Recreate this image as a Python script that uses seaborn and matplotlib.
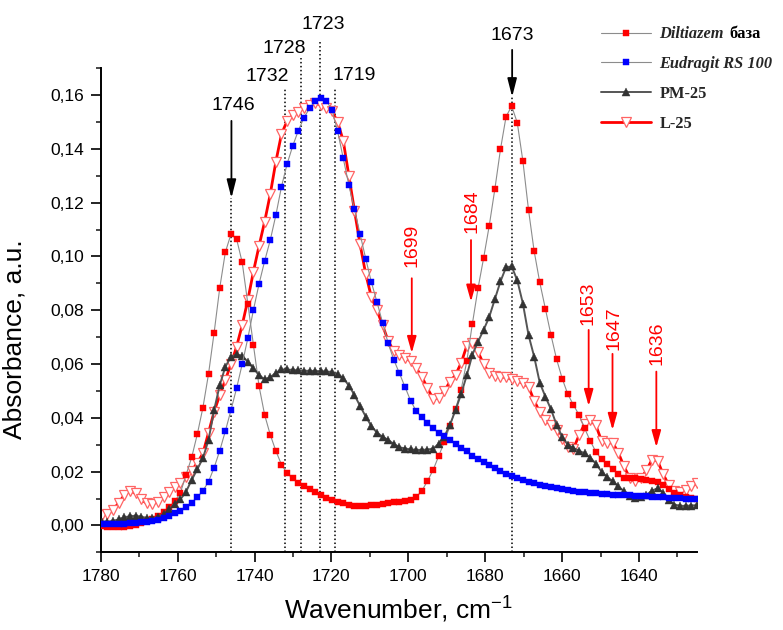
import numpy as np
import pandas as pd
import matplotlib
matplotlib.use("Agg")
import matplotlib.pyplot as plt
import seaborn as sns
from matplotlib.ticker import MultipleLocator, FuncFormatter
from matplotlib.transforms import IdentityTransform

# ---------------- data ----------------
wavenumber = 1779.7 - 1.46 * np.arange(107)   # instrument sampling grid, cm-1

diltiazem = [
    -0.0003, -0.0005, -0.0006, -0.0006, -0.0005, -0.0002, 0.0002, 0.0008, 0.0015, 0.0025,
    0.0035, 0.0050, 0.0068, 0.0090, 0.0122, 0.0188, 0.0253, 0.0339, 0.0438, 0.0563,
    0.0717, 0.0883, 0.1016, 0.1083, 0.1065, 0.0978, 0.0825, 0.0671, 0.0518, 0.0411,
    0.0337, 0.0277, 0.0226, 0.0194, 0.0175, 0.0159, 0.0147, 0.0134, 0.0126, 0.0113,
    0.0103, 0.0095, 0.0088, 0.0082, 0.0076, 0.0072, 0.0072, 0.0073, 0.0076, 0.0078,
    0.0081, 0.0083, 0.0086, 0.0087, 0.0090, 0.0093, 0.0105, 0.0129, 0.0165, 0.0206,
    0.0258, 0.0311, 0.0370, 0.0433, 0.0505, 0.0610, 0.0750, 0.0881, 0.0994, 0.1114,
    0.1250, 0.1398, 0.1520, 0.1559, 0.1497, 0.1354, 0.1173, 0.1020, 0.0904, 0.0806,
    0.0708, 0.0618, 0.0546, 0.0488, 0.0448, 0.0411, 0.0361, 0.0314, 0.0274, 0.0246,
    0.0227, 0.0209, 0.0191, 0.0178, 0.0175, 0.0175, 0.0172, 0.0169, 0.0167, 0.0163,
    0.0151, 0.0135, 0.0122, 0.0113, 0.0105, 0.0101, 0.0099,
]

eudragit = [
    0.0004, 0.0004, 0.0005, 0.0005, 0.0007, 0.0008, 0.0009, 0.0012, 0.0014, 0.0017,
    0.0020, 0.0026, 0.0035, 0.0045, 0.0055, 0.0067, 0.0085, 0.0105, 0.0129, 0.0163,
    0.0215, 0.0278, 0.0351, 0.0429, 0.0510, 0.0600, 0.0696, 0.0801, 0.0898, 0.0983,
    0.1061, 0.1154, 0.1260, 0.1344, 0.1411, 0.1468, 0.1516, 0.1551, 0.1579, 0.1590,
    0.1578, 0.1545, 0.1465, 0.1365, 0.1265, 0.1175, 0.1083, 0.0992, 0.0905, 0.0831,
    0.0754, 0.0677, 0.0616, 0.0566, 0.0515, 0.0464, 0.0425, 0.0402, 0.0381, 0.0361,
    0.0344, 0.0333, 0.0318, 0.0303, 0.0289, 0.0277, 0.0260, 0.0247, 0.0236, 0.0226,
    0.0214, 0.0204, 0.0193, 0.0185, 0.0176, 0.0169, 0.0163, 0.0157, 0.0151, 0.0147,
    0.0142, 0.0138, 0.0134, 0.0132, 0.0129, 0.0126, 0.0123, 0.0121, 0.0119, 0.0118,
    0.0117, 0.0115, 0.0114, 0.0113, 0.0112, 0.0110, 0.0109, 0.0108, 0.0107, 0.0106,
    0.0105, 0.0104, 0.0103, 0.0101, 0.0100, 0.0099, 0.0098,
]

pm25 = [
    0.0014, 0.0014, 0.0017, 0.0023, 0.0030, 0.0035, 0.0036, 0.0033, 0.0028, 0.0026,
    0.0033, 0.0041, 0.0060, 0.0080, 0.0097, 0.0126, 0.0169, 0.0209, 0.0250, 0.0318,
    0.0429, 0.0522, 0.0590, 0.0627, 0.0636, 0.0630, 0.0609, 0.0584, 0.0559, 0.0543,
    0.0551, 0.0568, 0.0580, 0.0580, 0.0578, 0.0577, 0.0575, 0.0575, 0.0574, 0.0574,
    0.0573, 0.0570, 0.0563, 0.0548, 0.0520, 0.0485, 0.0444, 0.0405, 0.0370, 0.0345,
    0.0330, 0.0318, 0.0303, 0.0291, 0.0286, 0.0283, 0.0281, 0.0281, 0.0282, 0.0286,
    0.0303, 0.0330, 0.0374, 0.0429, 0.0489, 0.0558, 0.0635, 0.0683, 0.0727, 0.0775,
    0.0841, 0.0907, 0.0960, 0.0963, 0.0911, 0.0825, 0.0708, 0.0628, 0.0531, 0.0479,
    0.0432, 0.0374, 0.0330, 0.0300, 0.0288, 0.0278, 0.0268, 0.0252, 0.0230, 0.0200,
    0.0180, 0.0165, 0.0145, 0.0128, 0.0110, 0.0102, 0.0105, 0.0113, 0.0130, 0.0138,
    0.0122, 0.0095, 0.0078, 0.0073, 0.0073, 0.0074, 0.0076,
]

l25 = [
    0.0039, 0.0041, 0.0057, 0.0085, 0.0113, 0.0129, 0.0119, 0.0097, 0.0082, 0.0080,
    0.0088, 0.0105, 0.0126, 0.0144, 0.0159, 0.0179, 0.0204, 0.0233, 0.0268, 0.0345,
    0.0423, 0.0485, 0.0541, 0.0600, 0.0665, 0.0745, 0.0838, 0.0944, 0.1039, 0.1130,
    0.1232, 0.1353, 0.1455, 0.1504, 0.1526, 0.1538, 0.1553, 0.1563, 0.1569, 0.1563,
    0.1553, 0.1540, 0.1500, 0.1430, 0.1300, 0.1170, 0.1045, 0.0935, 0.0850, 0.0800,
    0.0745, 0.0686, 0.0648, 0.0634, 0.0623, 0.0611, 0.0585, 0.0553, 0.0510, 0.0471,
    0.0474, 0.0500, 0.0534, 0.0560, 0.0604, 0.0668, 0.0680, 0.0645, 0.0600, 0.0567,
    0.0557, 0.0552, 0.0551, 0.0543, 0.0538, 0.0528, 0.0516, 0.0464, 0.0422, 0.0393,
    0.0372, 0.0354, 0.0322, 0.0292, 0.0286, 0.0335, 0.0378, 0.0392, 0.0372, 0.0315,
    0.0306, 0.0308, 0.0270, 0.0220, 0.0178, 0.0165, 0.0175, 0.0205, 0.0245, 0.0240,
    0.0190, 0.0150, 0.0127, 0.0124, 0.0132, 0.0145, 0.0157,
]

series_labels = ["Diltiazem", "Eudragit RS 100", "PM-25", "L-25"]

# band annotations
black_peaks = [1746, 1732, 1728, 1723, 1719, 1673]
red_peaks = [1699, 1684, 1653, 1647, 1636]

# ---------------- style ----------------
sns.set_theme(style="white")
plt.rcParams["font.family"] = ["Liberation Sans", "DejaVu Sans"]
plt.rcParams["mathtext.fontset"] = "custom"
plt.rcParams["mathtext.rm"] = "Liberation Sans"
plt.rcParams["mathtext.it"] = "Liberation Sans:italic"
plt.rcParams["mathtext.bf"] = "Liberation Sans:bold"

fig = plt.figure(figsize=(7.83, 6.30), dpi=100)
ax = fig.add_axes([0.1286, 0.1232, 0.7612, 0.7686])

df = pd.DataFrame({"w": wavenumber, "D": diltiazem, "E": eudragit, "PM": pm25, "L": l25})

sns.lineplot(data=df, x="w", y="L", ax=ax, sort=False, estimator=None,
             color="#ff0000", lw=2.0, marker="v", markersize=6.5,
             markerfacecolor="white", markeredgecolor="#ff6464", markeredgewidth=0.9,
             label=series_labels[3], zorder=2)
sns.lineplot(data=df, x="w", y="D", ax=ax, sort=False, estimator=None,
             color="#8c8c8c", lw=0.8, marker="s", markersize=4.3,
             markerfacecolor="#ff0000", markeredgecolor="#ff0000", markeredgewidth=0.3,
             label=series_labels[0], zorder=3)
sns.lineplot(data=df, x="w", y="PM", ax=ax, sort=False, estimator=None,
             color="#555555", lw=1.4, marker="^", markersize=5.3,
             markerfacecolor="#333333", markeredgecolor="#333333", markeredgewidth=0.3,
             label=series_labels[2], zorder=4)
sns.lineplot(data=df, x="w", y="E", ax=ax, sort=False, estimator=None,
             color="#8c8c8c", lw=0.8, marker="s", markersize=4.3,
             markerfacecolor="#0000ff", markeredgecolor="#0000ff", markeredgewidth=0.3,
             label=series_labels[1], zorder=5)

ax.set_xlim(1780, 1625)
ax.set_ylim(-0.01, 0.17)

# ---------------- axes ----------------
for s in ["top", "right"]:
    ax.spines[s].set_visible(False)
for s in ["left", "bottom"]:
    ax.spines[s].set_linewidth(1.4)
    ax.spines[s].set_color("black")

ax.xaxis.set_major_locator(MultipleLocator(20))
ax.xaxis.set_minor_locator(MultipleLocator(10))
ax.yaxis.set_major_locator(MultipleLocator(0.02))
ax.yaxis.set_minor_locator(MultipleLocator(0.01))
ax.yaxis.set_major_formatter(FuncFormatter(lambda v, p: f"{v:.2f}".replace(".", ",").replace("-0,00", "0,00")))
ax.xaxis.set_major_formatter(FuncFormatter(lambda v, p: f"{v:.0f}"))
ax.tick_params(axis="both", which="major", direction="out", length=7, width=1.2,
               labelsize=12.5, pad=5, colors="black", bottom=True, left=True)
ax.tick_params(axis="both", which="minor", direction="out", length=3.5, width=1.2,
               bottom=True, left=True)
ax.grid(False)

ax.set_xlabel("Wavenumber, cm$^{\\mathregular{-1}}$", fontsize=19, labelpad=8, color="black")
ax.set_ylabel("Absorbance, a.u.", fontsize=19, color="black")
ax.yaxis.set_label_coords(-0.125, 0.44)

# ---------------- band markers ----------------
black_text_pos = {1746: (1745.5, 0.1563), 1732: (1736.6, 0.1668), 1728: (1732.2, 0.1774),
                  1723: (1722.1, 0.1864), 1719: (1714.1, 0.1671), 1673: (1673.0, 0.1820)}
line_tops = {1746: 0.1217, 1732: 0.1623, 1728: 0.1738, 1723: 0.1805, 1719: 0.1623, 1673: 0.1593}
ax.vlines(black_peaks, ymin=-0.01, ymax=[line_tops[p] for p in black_peaks],
          colors="black", linestyles=(0, (1, 1.6)), lw=1.1, clip_on=False, zorder=1)
for p in black_peaks:
    tx, ty = black_text_pos[p]
    ax.text(tx, ty, str(p), fontsize=14, ha="center", va="center", color="black", clip_on=False)
arrow_black = dict(arrowstyle="-|>,head_length=1.1,head_width=0.28", color="black",
                   lw=1.3, shrinkA=0, shrinkB=0, mutation_scale=10)
ax.annotate("", xy=(1746, 0.1217), xytext=(1746, 0.1504), arrowprops=arrow_black, annotation_clip=False)
ax.annotate("", xy=(1673, 0.1593), xytext=(1673, 0.1768), arrowprops=arrow_black, annotation_clip=False)

red_text_pos = {1699: (1699.1, 0.1043), 1684: (1683.5, 0.1167), 1653: (1653.4, 0.0826),
                1647: (1646.6, 0.0733), 1636: (1635.3, 0.0677)}
red_arrows = {1699: (1699.1, 0.0919, 0.0641), 1684: (1683.7, 0.1061, 0.0832),
              1653: (1653.1, 0.0727, 0.0444), 1647: (1646.9, 0.0638, 0.0355),
              1636: (1635.5, 0.0572, 0.0291)}
arrow_red = dict(arrowstyle="-|>,head_length=1.0,head_width=0.28", color="#ff0000",
                 lw=1.3, shrinkA=0, shrinkB=0, mutation_scale=10)
for p in red_peaks:
    tx, ty = red_text_pos[p]
    ax.text(tx, ty, str(p), fontsize=14, rotation=90, ha="center", va="center", color="#ff0000")
    ax_, y0, y1 = red_arrows[p]
    ax.annotate("", xy=(ax_, y1), xytext=(ax_, y0), arrowprops=arrow_red)

# ---------------- legend ----------------
handles, labels = ax.get_legend_handles_labels()
ax.get_legend().remove()
order = [labels.index(l) for l in series_labels]
leg = fig.legend([handles[i] for i in order], [labels[i] for i in order],
                 loc="upper left", bbox_to_anchor=(0.768, 0.958), frameon=False,
                 prop={"family": "Liberation Serif", "weight": "bold", "size": 11.8},
                 handlelength=3.0, handletextpad=0.55, labelspacing=0.84,
                 borderpad=0, borderaxespad=0, numpoints=1)
for t in leg.get_texts()[:2]:
    t.set_fontstyle("italic")

fig.canvas.draw()
renderer = fig.canvas.get_renderer()
bb = leg.get_texts()[0].get_window_extent(renderer)
fig.text(bb.x1 + 5, bb.y0, "база", transform=IdentityTransform(), ha="left", va="bottom",
         family="Liberation Serif", weight="bold", size=11.8, color="black")

fig.savefig("out.png", dpi=100)
